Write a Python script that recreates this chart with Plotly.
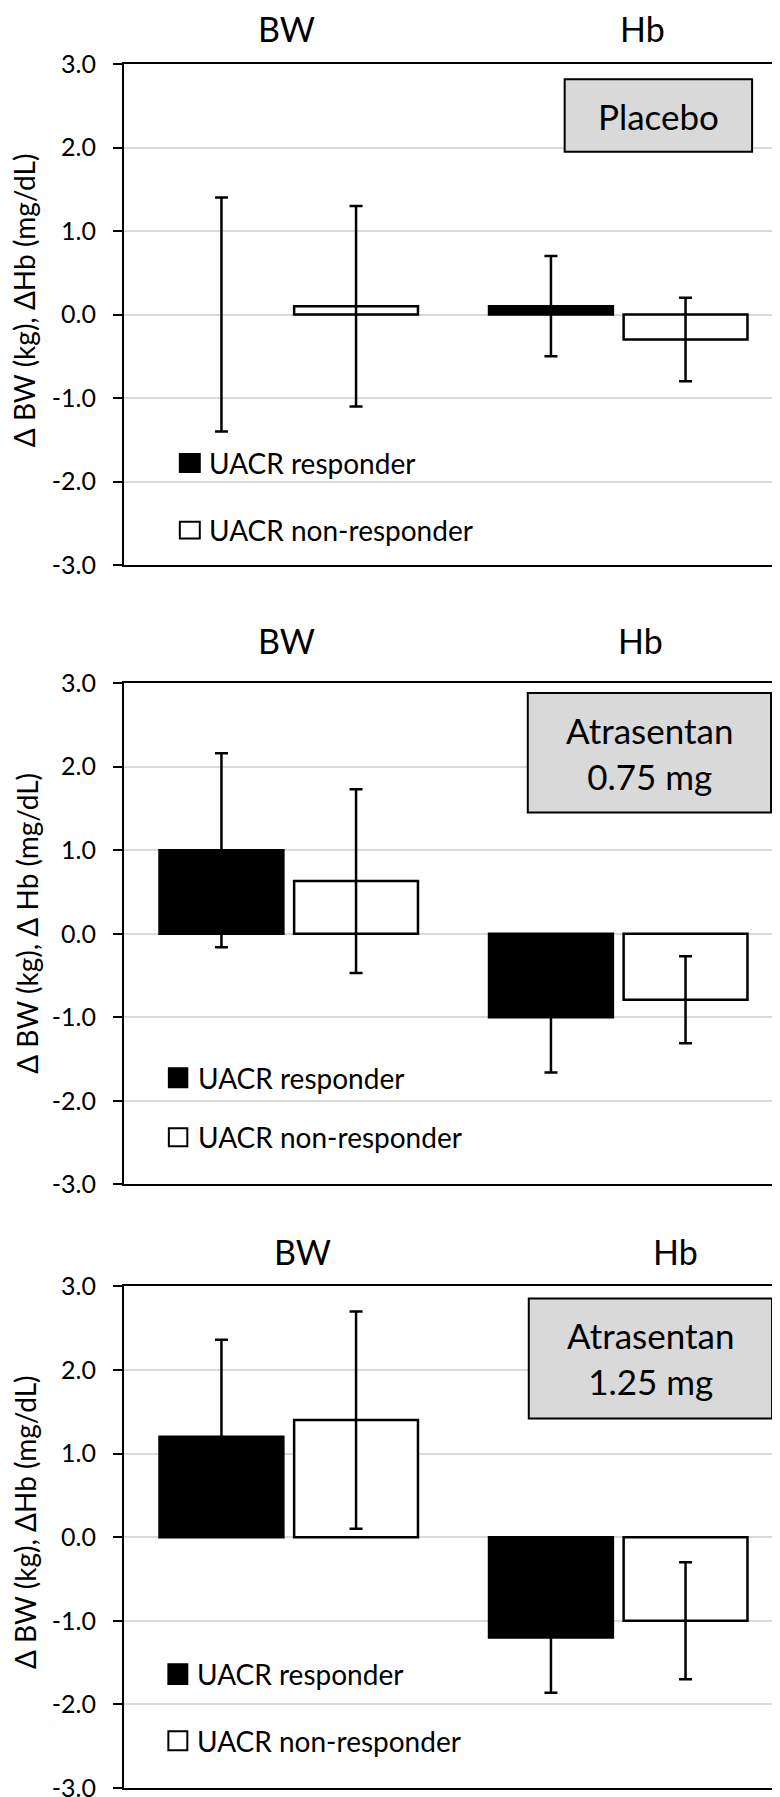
import plotly.graph_objects as go

# ---------------- data ----------------
categories = ["BW", "Hb"]
panel_labels = ["Placebo", "Atrasentan<br>0.75 mg", "Atrasentan<br>1.25 mg"]
y_titles = ["Δ BW (kg), ΔHb (mg/dL)", "Δ BW (kg), Δ Hb (mg/dL)", "Δ BW (kg), ΔHb (mg/dL)"]
series_names = ["UACR responder", "UACR non-responder"]
tick_vals = [-3, -2, -1, 0, 1, 2, 3]
tick_text = ["-3.0", "-2.0", "-1.0", "0.0", "1.0", "2.0", "3.0"]

placebo_resp = [0.0, 0.1]
placebo_resp_err = [1.4, 0.6]
placebo_nonresp = [0.1, -0.3]
placebo_nonresp_err = [1.2, 0.5]

atr075_resp = [1.0, -1.0]
atr075_resp_err = [1.16, 0.66]
atr075_nonresp = [0.63, -0.79]
atr075_nonresp_err = [1.1, 0.52]

atr125_resp = [1.2, -1.2]
atr125_resp_err = [1.16, 0.66]
atr125_nonresp = [1.4, -1.0]
atr125_nonresp_err = [1.3, 0.7]

panels = [
    (placebo_resp, placebo_resp_err, placebo_nonresp, placebo_nonresp_err),
    (atr075_resp, atr075_resp_err, atr075_nonresp, atr075_nonresp_err),
    (atr125_resp, atr125_resp_err, atr125_nonresp, atr125_nonresp_err),
]

# ---------------- layout geometry (pixels) ----------------
W, H = 780, 1797
ML, MR, MT, MB = 116, 3, 56, 8
PW = W - ML - MR
PH = H - MT - MB
FONT = "Lato, 'Open Sans', sans-serif"

# pixel top / bottom of each plot area
panel_px = [(55.7, 559.7), (678.3, 1182.3), (1284.7, 1789.0)]


def py2paper(py):
    return (H - MB - py) / PH


def px2paper(px):
    return (px - ML) / PW


def py2dom(py, i):
    top, bot = panel_px[i]
    return (bot - py) / (bot - top)


# decoration positions per panel
title_pos = [((279, 20.5), (636, 20.5)), ((279, 636), (634, 636)), ((295, 1250), (669, 1250))]
box_px = [(558, 746, 71, 144), (521, 765, 688.3, 808.3), (522, 766, 1297, 1417.5)]
ytitle_px = [(16, 293), (18, 920), (16, 1521.4)]
legend_px = [
    (172, 192, 199, [(448, 466), (516, 533)]),
    (161, 179.5, 188, [(1065.5, 1084.7), (1125.7, 1144)]),
    (160.5, 179.5, 187, [(1664.7, 1684.5), (1732, 1751)]),
]

fig = go.Figure()
shapes = []
annotations = []


def outline_widths(vals):
    # a zero-height bar shows no outline in the reference
    return [0 if v == 0 else 2.5 for v in vals]


for i, (r, re, n, ne) in enumerate(panels):
    xa = "x" if i == 0 else f"x{i+1}"
    ya = "y" if i == 0 else f"y{i+1}"
    fig.add_trace(go.Bar(
        x=categories, y=r, name=series_names[0], xaxis=xa, yaxis=ya,
        marker=dict(color="black", line=dict(color="black", width=outline_widths(r))),
        error_y=dict(type="data", array=re, visible=True, color="black", thickness=2.5, width=6.5),
        showlegend=False,
    ))
    fig.add_trace(go.Bar(
        x=categories, y=n, name=series_names[1], xaxis=xa, yaxis=ya,
        marker=dict(color="white", line=dict(color="black", width=outline_widths(n))),
        error_y=dict(type="data", array=ne, visible=True, color="black", thickness=2.5, width=6.5),
        showlegend=False,
    ))

    top, bot = panel_px[i]
    dom = [py2paper(bot), min(1.0, py2paper(top))]
    axis_common = dict(showline=True, mirror=True, linecolor="black", linewidth=2)
    fig.update_layout(**{
        ("xaxis" if i == 0 else f"xaxis{i+1}"): dict(
            domain=[0, 1], anchor=ya, showticklabels=False, ticks="", showgrid=False,
            zeroline=False, range=[-0.5, 1.5], **axis_common),
        ("yaxis" if i == 0 else f"yaxis{i+1}"): dict(
            domain=dom, anchor=xa, range=[-3, 3], tickvals=tick_vals, ticktext=tick_text,
            ticks="outside", ticklen=9, tickwidth=2, tickcolor="black",
            showgrid=True, gridcolor="#d9d9d9", gridwidth=2, zeroline=False,
            tickfont=dict(family=FONT, size=25, color="black"), ticklabelstandoff=12,
            **axis_common),
    })

    xd = f"{xa} domain"
    yd = f"{ya} domain"

    # category titles
    for (tx, ty), txt in zip(title_pos[i], categories):
        annotations.append(dict(text=txt, x=px2paper(tx), y=py2paper(ty), xref="paper", yref="paper",
                                xanchor="center", yanchor="middle", showarrow=False,
                                font=dict(family=FONT, size=34, color="black")))

    # treatment box
    bx0, bx1, by0, by1 = box_px[i]
    shapes.append(dict(type="rect", xref=xd, yref=yd,
                       x0=px2paper(bx0), x1=px2paper(bx1),
                       y0=py2dom(by1, i), y1=py2dom(by0, i),
                       fillcolor="#d9d9d9", line=dict(color="black", width=2)))
    annotations.append(dict(text=panel_labels[i], xref=xd, yref=yd,
                            x=(px2paper(bx0) + px2paper(bx1)) / 2,
                            y=(py2dom(by0, i) + py2dom(by1, i)) / 2,
                            xanchor="center", yanchor="middle", showarrow=False,
                            font=dict(family=FONT, size=35, color="black")))

    # y-axis title
    tx, ty = ytitle_px[i]
    annotations.append(dict(text=y_titles[i], xref="paper", yref=yd,
                            x=px2paper(tx), y=py2dom(ty, i), textangle=-90,
                            xanchor="center", yanchor="middle", showarrow=False,
                            font=dict(family=FONT, size=28, color="black")))

    # legend
    sx0, sx1, tx0, rows = legend_px[i]
    for k, (sy0, sy1) in enumerate(rows):
        shapes.append(dict(type="rect", xref=xd, yref=yd,
                           x0=px2paper(sx0), x1=px2paper(sx1),
                           y0=py2dom(sy1, i), y1=py2dom(sy0, i),
                           fillcolor="black" if k == 0 else "white",
                           line=dict(color="black", width=2)))
        annotations.append(dict(text=series_names[k], xref=xd, yref=yd,
                                x=px2paper(tx0), y=py2dom((sy0 + sy1) / 2, i),
                                xanchor="left", yanchor="middle", showarrow=False,
                                font=dict(family=FONT, size=28, color="black")))

fig.update_layout(
    width=W, height=H,
    margin=dict(l=ML, r=MR, t=MT, b=MB),
    paper_bgcolor="white", plot_bgcolor="white",
    barmode="group", bargap=0.183, bargroupgap=0.08,
    shapes=shapes, annotations=annotations,
    font=dict(family=FONT, color="black"),
)

fig.write_html("out.html")
